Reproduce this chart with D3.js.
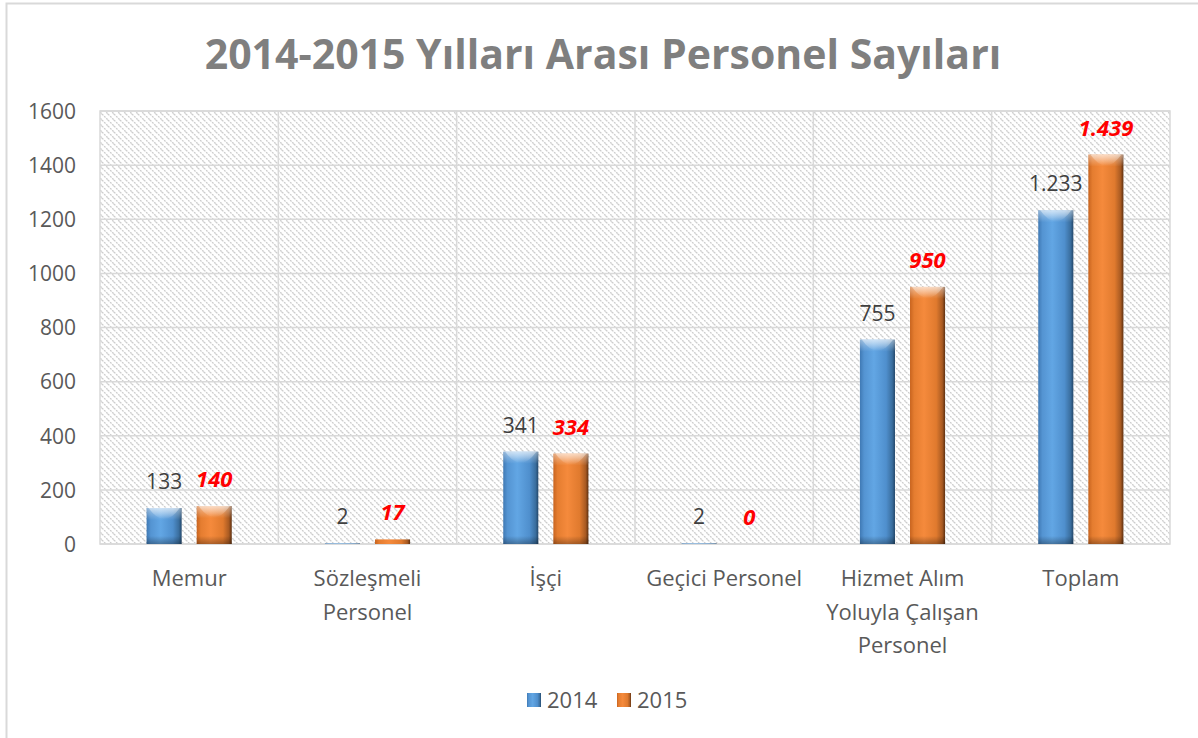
<!DOCTYPE html>
<meta charset="utf-8">
<style>
body { margin: 0; background: #fff; }
svg { display: block; font-family: "Open Sans", "Noto Sans", sans-serif; }
</style>
<body>
<svg id="chart" width="1198" height="738"></svg>
<script src="https://cdn.jsdelivr.net/npm/d3@7"></script>
<script>
var categories = [["Memur"], ["Sözleşmeli", "Personel"], ["İşçi"], ["Geçici Personel"], ["Hizmet Alım", "Yoluyla Çalışan", "Personel"], ["Toplam"]];
var series = ["2014", "2015"];
var values2014 = [133, 2, 341, 2, 755, 1233];
var values2015 = [140, 17, 334, 0, 950, 1439];
var yTicks = [0, 200, 400, 600, 800, 1000, 1200, 1400, 1600];

var svg = d3.select("#chart");
var margin = {left: 100, top: 111, right: 1170, bottom: 544};

// outer chart border
svg.append("rect")
  .attr("x", 6.5).attr("y", 3.5).attr("width", 1240).attr("height", 800)
  .attr("fill", "#fff").attr("stroke", "#d9d9d9").attr("stroke-width", 2);

var defs = svg.append("defs");

// light diagonal hatch in the plot area
var pat = defs.append("pattern").attr("id", "hatch")
  .attr("patternUnits", "userSpaceOnUse").attr("width", 6).attr("height", 6);
pat.append("rect").attr("width", 6).attr("height", 6).attr("fill", "#fff");
pat.append("path").attr("d", "M0,0 L6,6 M-3,3 L0,6 M3,-3 L9,3")
  .attr("stroke", "#cdcdcd").attr("stroke-width", 1.3).attr("stroke-dasharray", "2,1");

function barGradient(id, stops) {
  var g = defs.append("linearGradient").attr("id", id)
    .attr("x1", "0%").attr("x2", "100%").attr("y1", "0%").attr("y2", "0%");
  stops.forEach(function(s) { g.append("stop").attr("offset", s[0]).attr("stop-color", s[1]); });
}
barGradient("g2014", [["0%", "#3f79b4"], ["12%", "#5494d2"], ["40%", "#62a6e4"], ["75%", "#4f8fcd"], ["92%", "#3a6e9e"], ["100%", "#24486b"]]);
barGradient("g2015", [["0%", "#c8641f"], ["12%", "#e57d30"], ["40%", "#f58a3c"], ["75%", "#e07a2e"], ["92%", "#a85a22"], ["100%", "#5e3010"]]);

var cap = defs.append("linearGradient").attr("id", "cap")
  .attr("x1", "0%").attr("x2", "0%").attr("y1", "0%").attr("y2", "100%");
cap.append("stop").attr("offset", "0%").attr("stop-color", "#fff").attr("stop-opacity", 0.45);
cap.append("stop").attr("offset", "100%").attr("stop-color", "#fff").attr("stop-opacity", 0);
var foot = defs.append("linearGradient").attr("id", "foot")
  .attr("x1", "0%").attr("x2", "0%").attr("y1", "0%").attr("y2", "100%");
foot.append("stop").attr("offset", "0%").attr("stop-color", "#000").attr("stop-opacity", 0);
foot.append("stop").attr("offset", "100%").attr("stop-color", "#000").attr("stop-opacity", 0.3);

// title
svg.append("text")
  .attr("x", 603).attr("y", 69)
  .attr("text-anchor", "middle")
  .attr("font-size", 41).attr("font-weight", "bold").attr("fill", "#7f7f7f")
  .text("2014-2015 Yılları Arası Personel Sayıları");

var x0 = d3.scaleBand().domain(d3.range(categories.length))
  .range([margin.left, margin.right]).paddingInner(0.5225).paddingOuter(0.26125);
var x1 = d3.scaleBand().domain(series).range([0, x0.bandwidth()]).paddingInner(0.3);
var y = d3.scaleLinear().domain([0, 1600]).range([margin.bottom, margin.top]);

svg.append("rect")
  .attr("x", margin.left).attr("y", margin.top)
  .attr("width", margin.right - margin.left).attr("height", margin.bottom - margin.top)
  .attr("fill", "url(#hatch)").attr("stroke", "#d9d9d9").attr("stroke-width", 1.5);

// gridlines
svg.append("g").selectAll("line").data(yTicks).join("line")
  .attr("x1", margin.left).attr("x2", margin.right)
  .attr("y1", function(d) { return y(d); }).attr("y2", function(d) { return y(d); })
  .attr("stroke", "#d9d9d9").attr("stroke-width", 1.5);
var step = x0.step();
svg.append("g").selectAll("line").data(d3.range(1, categories.length)).join("line")
  .attr("x1", function(i) { return margin.left + i * step; })
  .attr("x2", function(i) { return margin.left + i * step; })
  .attr("y1", margin.top).attr("y2", margin.bottom)
  .attr("stroke", "#d9d9d9").attr("stroke-width", 1.5);

// y axis labels
var yAxis = svg.append("g").attr("transform", "translate(76,0)")
  .call(d3.axisLeft(y).tickValues(yTicks).tickFormat(d3.format("d")).tickSize(0).tickPadding(0));
yAxis.select(".domain").remove();
yAxis.selectAll("text").attr("font-size", 21).attr("fill", "#595959")
  .attr("font-family", "'Open Sans', sans-serif").attr("dy", "0.35em");

// category labels
var catG = svg.append("g").selectAll("text").data(categories).join("text")
  .attr("x", function(d, i) { return x0(i) + x0.bandwidth() / 2; })
  .attr("y", 586)
  .attr("text-anchor", "middle").attr("font-size", 22).attr("fill", "#595959");
catG.selectAll("tspan").data(function(d) { return d; }).join("tspan")
  .attr("x", function() { return d3.select(this.parentNode).attr("x"); })
  .attr("dy", function(d, j) { return j === 0 ? 0 : 33.5; })
  .text(function(d) { return d; });

var data = [];
categories.forEach(function(c, i) {
  data.push({i: i, s: "2014", v: values2014[i]});
  data.push({i: i, s: "2015", v: values2015[i]});
});

var bars = svg.append("g").selectAll("g").data(data).join("g")
  .attr("transform", function(d) { return "translate(" + (x0(d.i) + x1(d.s)) + ",0)"; });
var bw = x1.bandwidth();
bars.append("rect")
  .attr("y", function(d) { return y(d.v); })
  .attr("width", bw)
  .attr("height", function(d) { return y(0) - y(d.v); })
  .attr("fill", function(d) { return "url(#g" + d.s + ")"; });
bars.filter(function(d) { return y(0) - y(d.v) > 10; }).append("path")
  .attr("d", function(d) {
    var t = y(d.v);
    return "M2," + t + " L" + (bw - 2) + "," + t + " Q" + (bw / 2) + "," + (t + 22) + " 2," + t + "Z";
  })
  .attr("fill", "url(#cap)");
bars.filter(function(d) { return y(0) - y(d.v) > 10; }).append("rect")
  .attr("y", function(d) { return y(d.v); })
  .attr("width", bw).attr("height", 12)
  .attr("fill", "url(#cap)");
bars.filter(function(d) { return y(0) - y(d.v) > 10; }).append("rect")
  .attr("y", y(0) - 8).attr("width", bw).attr("height", 8)
  .attr("fill", "url(#foot)");

function fmt(v) { return d3.format(",")(v).replace(/,/g, "."); }

bars.append("text")
  .attr("x", bw / 2)
  .attr("y", function(d) { return y(d.v) - 19; })
  .attr("text-anchor", "middle")
  .attr("font-size", function(d) { return d.s === "2015" ? 22 : 21; })
  .attr("font-weight", function(d) { return d.s === "2015" ? "bold" : "normal"; })
  .attr("font-style", function(d) { return d.s === "2015" ? "italic" : "normal"; })
  .attr("fill", function(d) { return d.s === "2015" ? "#ff0000" : "#404040"; })
  .text(function(d) { return fmt(d.v); });

// legend
var legend = svg.append("g").selectAll("g").data(series).join("g")
  .attr("transform", function(d, i) { return "translate(" + (527 + i * 90) + ",693)"; });
legend.append("rect").attr("width", 14).attr("height", 14)
  .attr("fill", function(d) { return "url(#g" + d + ")"; });
legend.append("text").attr("x", 20).attr("y", 15)
  .attr("font-size", 22).attr("fill", "#595959")
  .text(function(d) { return d; });
</script>
</body>
